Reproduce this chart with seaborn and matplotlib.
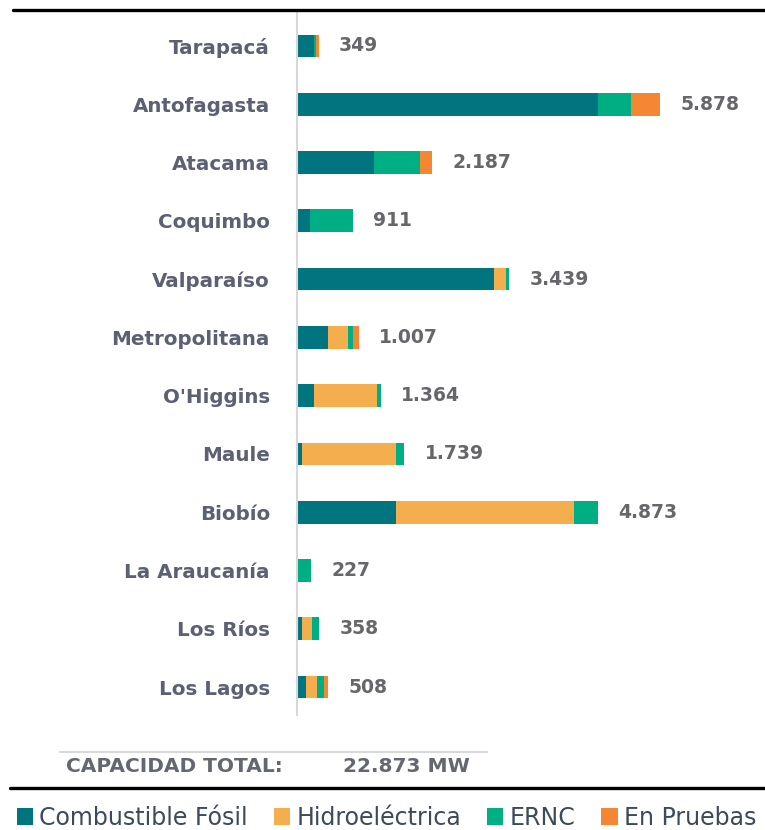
import matplotlib
matplotlib.use("Agg")
import matplotlib.pyplot as plt
import seaborn as sns
import pandas as pd
import numpy as np
from matplotlib.patches import Patch
from matplotlib.lines import Line2D

regiones = ["Tarapacá", "Antofagasta", "Atacama", "Coquimbo", "Valparaíso",
            "Metropolitana", "O'Higgins", "Maule", "Biobío", "La Araucanía",
            "Los Ríos", "Los Lagos"]
fosil = [270, 4878, 1252, 210, 3188, 505, 280, 82, 1600, 0, 85, 140]
hidro = [0, 0, 0, 0, 196, 318, 1013, 1520, 2888, 0, 160, 184]
ernc = [40, 525, 745, 701, 55, 84, 71, 137, 385, 227, 113, 112]
pruebas = [39, 475, 190, 0, 0, 100, 0, 0, 0, 0, 0, 72]
totales = [349, 5878, 2187, 911, 3439, 1007, 1364, 1739, 4873, 227, 358, 508]
etiquetas = ["349", "5.878", "2.187", "911", "3.439", "1.007", "1.364",
             "1.739", "4.873", "227", "358", "508"]
series = ["Combustible Fósil", "Hidroeléctrica", "ERNC", "En Pruebas"]
colores = ["#007580", "#F5AE4E", "#00AE84", "#F58634"]
total_label = "CAPACIDAD TOTAL:"
total_texto = "22.873 MW"

sns.set_theme(style="white")
plt.rcParams['font.family'] = ['DejaVu Sans']

W, H = 765, 830
fig = plt.figure(figsize=(W / 100, H / 100), dpi=100)
ax_left, ax_right = 297, 765
ax_top, ax_bot = 11, 715
ax = fig.add_axes([ax_left / W, 1 - ax_bot / H, (ax_right - ax_left) / W, (ax_bot - ax_top) / H])

cum = np.cumsum(np.array([fosil, hidro, ernc, pruebas]), axis=0)
for i in range(3, -1, -1):
    d = pd.DataFrame({"region": regiones, "v": cum[i]})
    sns.barplot(data=d, y="region", x="v", color=colores[i], orient="h",
                width=0.39, ax=ax, order=regiones, saturation=1, linewidth=0)

for i, (t, lab) in enumerate(zip(totales, etiquetas)):
    ax.annotate(lab, xy=(t, i), xytext=(14.5, 0), textcoords="offset points",
                va="center", ha="left", fontsize=13.5, fontweight="bold",
                color="#66666b")

ax.set_xlim(0, 7578)
ax.set_ylim(11.48, -0.6)
ax.set_xlabel("")
ax.set_ylabel("")
ax.set_xticks([])
for s in ["top", "right", "bottom"]:
    ax.spines[s].set_visible(False)
ax.spines["left"].set_color("#d8d8d8")
ax.spines["left"].set_linewidth(1.5)
ax.tick_params(axis="y", length=0, pad=19.5, labelsize=14.3, labelcolor="#5b6072")
for t in ax.get_yticklabels():
    t.set_fontweight("bold")

# lines
fig.add_artist(Line2D([13 / W, 1], [1 - 10 / H, 1 - 10 / H], color="black", lw=2.4))
fig.add_artist(Line2D([60 / W, 487 / W], [1 - 752 / H, 1 - 752 / H], color="#d8d8d8", lw=1.5))
fig.add_artist(Line2D([10 / W, 1], [1 - 788 / H, 1 - 788 / H], color="black", lw=2.4))

fig.text(66 / W, 1 - 766 / H, total_label, fontsize=14.5, fontweight="bold",
         color="#63676f", va="center", ha="left")
fig.text(343 / W, 1 - 766 / H, total_texto, fontsize=14.5, fontweight="bold",
         color="#63676f", va="center", ha="left")

handles = [Patch(facecolor=c, edgecolor="none") for c in colores]
fig.legend(handles, series, loc="center", bbox_to_anchor=(0.505, 1 - 818 / H), ncol=4,
           frameon=False, handlelength=0.7, handleheight=0.7,
           handletextpad=0.25, columnspacing=1.1, labelcolor="#3d4a5a",
           prop={"family": ["DejaVu Sans"], "size": 17})

fig.savefig("out.png", dpi=100)
